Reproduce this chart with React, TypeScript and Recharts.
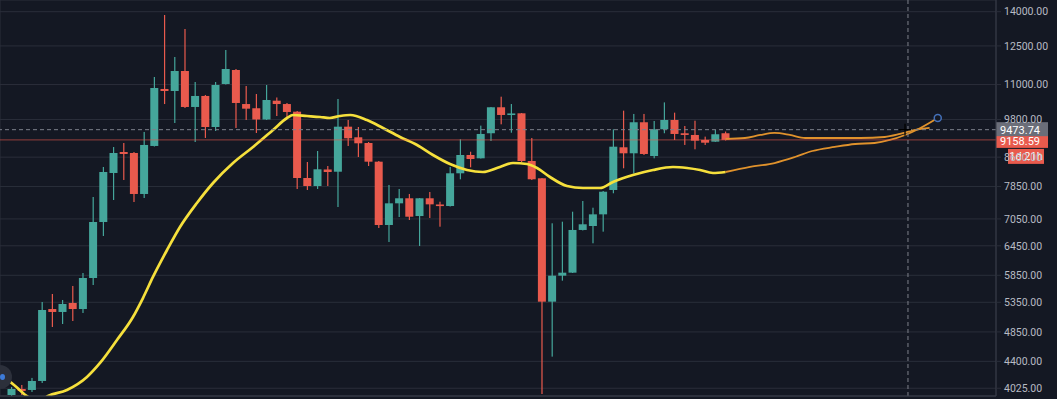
import React from "react";
import {
  ComposedChart,
  Bar,
  Line,
  XAxis,
  YAxis,
  CartesianGrid,
  ReferenceLine,
  ReferenceDot,
} from "recharts";

// ---- data (daily candles) ----
const opens = [
  3936, 4015, 4002, 4123, 5232, 5181, 5338, 5232, 5798, 6979, 8208, 8799, 8770, 7657, 8976, 10840,
  10768, 11505, 10213, 10592, 9558, 11020, 11543, 10313, 10170, 9798, 10428, 10313, 10055, 8073,
  7862, 8304, 8243, 9568, 9238, 9065, 8521, 6910, 7424, 7549, 7118, 7549, 7394, 7358, 8200, 8712,
  8617, 9362, 10203, 9946, 10001, 8541, 8065, 5361, 5843, 5901, 6797, 6887, 7158, 7759, 8937,
  8761, 9709, 8683, 9486, 9782, 9362, 9309, 9156, 9105, 9362,
];
const closes = [
  4015, 3989, 4123, 5215, 5181, 5320, 5232, 5798, 6979, 8235, 8770, 8741, 7657, 9006, 10875,
  10768, 11505, 10213, 10592, 9558, 10984, 11581, 10349, 10156, 9798, 10452, 10313, 10045, 8073,
  7862, 8309, 8235, 9568, 9208, 9056, 8521, 6910, 7424, 7549, 7102, 7549, 7399, 7358, 8200, 8712,
  8597, 9340, 10203, 9946, 9995, 8541, 8039, 5361, 5843, 5901, 6797, 6926, 7158, 7715, 8955,
  8761, 9709, 8741, 9486, 9782, 9340, 9309, 9135, 9074, 9331, 9158.59,
];
const highs = [
  4042, 4069, 4165, 5355, 5499, 5391, 5647, 5895, 7581, 8373, 8945, 9065, 8799, 9402, 11279,
  13848, 12051, 13221, 11093, 10627, 11093, 12333, 11581, 10947, 10661, 10984, 10539, 10349,
  10078, 8512, 8828, 8400, 10487, 9782, 9558, 9095, 8541, 7889, 7785, 7657, 7556, 7708, 7464,
  8373, 9177, 8807, 9601, 10213, 10567, 10313, 10011, 9217, 8073, 6949, 6986, 7221, 7481, 7317,
  7733, 9485, 10089, 9980, 9980, 9750, 10369, 10023, 9590, 9759, 9258, 9464, 9415,
];
const lows = [
  3915, 3936, 3976, 4096, 4930, 4979, 5029, 5164, 5665, 6663, 7506, 8020, 7456, 7556, 8960, 10313,
  9685, 10179, 9095, 9217, 9433, 11002, 9527, 9782, 9370, 9782, 9912, 9880, 7785, 7759, 7785,
  7862, 7334, 8976, 8654, 8400, 6842, 6532, 7095, 7025, 6446, 7072, 6871, 7346, 8038, 8364, 8612,
  9126, 9643, 9379, 8512, 8020, 3949, 4469, 5747, 5895, 6786, 6504, 6759, 7675, 8337, 8195, 8712,
  8617, 9362, 9156, 9006, 8878, 9006, 9100, 9141,
];

// moving average (yellow)
const maIdx = [
  -1.14, 0.24, 1.61, 2.59, 3.57, 5.43, 7.39, 8.67, 10.33, 11.9, 12.88, 13.86, 15.24, 16.51, 18.17,
  19.75, 21.71, 23.67, 25.63, 27.0, 27.59, 28.96, 30.24, 31.2, 32.2, 33.2, 34.84, 36.41, 38.08,
  39.75, 41.31, 42.98, 44.65, 46.2, 47.88, 49.16, 50.53, 51.51, 52.78, 54.45, 56.02, 57.69, 58.96,
  60.92, 62.88, 64.84, 66.22, 67.49, 68.76, 70,
];
const maVals = [
  4206, 4069, 3910, 3846, 3923, 4002, 4178, 4376, 4722, 5096, 5426, 5818, 6361, 6864, 7432, 7941,
  8484, 8946, 9464, 9847, 9945, 9912, 9880, 9847, 9912, 9945, 9782, 9527, 9247, 9006, 8712, 8456,
  8290, 8235, 8373, 8484, 8456, 8345, 8100, 7862, 7810, 7810, 7967, 8152, 8290, 8373, 8345, 8290,
  8208, 8235,
];

// projections (orange)
const projAIdx = [70, 71.9, 73.4, 74.8, 76.3, 77.8, 80.2, 83.2, 85.6, 87.1, 88.6, 90.0];
const projAVals = [9186, 9216, 9309, 9371, 9309, 9216, 9216, 9216, 9247, 9340, 9464, 9527];
const projBIdx = [70, 72.4, 74.8, 76.8, 78.5, 80.7, 82.7, 84.6, 86.1, 87.6, 89.1, 90.8];
const projBVals = [8235, 8373, 8484, 8654, 8828, 8947, 9035, 9065, 9156, 9309, 9527, 9847];

const priceTicks = [4025, 4400, 4850, 5350, 5850, 6450, 7050, 7850, 8650, 9800, 11000, 12500, 14000];
const gridIdx = [8, 16, 25, 34, 43, 51, 60, 69, 78, 86, 95];

const crossPrice = 9473.74;
const lastPrice = 9158.59;
const crossIdx = 87.88;
const cursorIdx = 87.59;
const targetIdx = 90.8;
const targetPrice = 9847;

// ---- styles ----
const BG = "#141823";
const GRID = "#2a2e3a";
const UP = "#45a69b";
const DOWN = "#e95a4d";
const X_DOMAIN: [number, number] = [-1.137, 96.51];
const Y_DOMAIN: [number, number] = [3923, 14553];

const candles = opens.map((o, i) => ({
  i,
  wick: [lows[i], highs[i]],
  body: [Math.min(o, closes[i]), Math.max(o, closes[i])],
  up: closes[i] >= o,
}));
const maData = maIdx.map((i, k) => ({ i, v: maVals[k] }));
const projA = projAIdx.map((i, k) => ({ i, v: projAVals[k] }));
const projB = projBIdx.map((i, k) => ({ i, v: projBVals[k] }));

function WickShape(props: any) {
  const { x, y, width, height, payload } = props;
  if (x == null || y == null) return null;
  const h = Math.abs(height || 0);
  const top = height < 0 ? y + height : y;
  return (
    <rect
      x={x + width / 2 - 0.6}
      y={top}
      width={1.2}
      height={Math.max(h, 1)}
      fill={payload && payload.up ? UP : DOWN}
    />
  );
}

function BodyShape(props: any) {
  const { x, y, width, height, payload } = props;
  if (x == null || y == null) return null;
  const h = Math.abs(height || 0);
  const top = height < 0 ? y + height : y;
  const hh = Math.max(h, 1.6);
  return (
    <rect
      x={x}
      y={top + h / 2 - hh / 2}
      width={width}
      height={hh}
      fill={payload && payload.up ? UP : DOWN}
    />
  );
}

const NoDot = () => <g />;

const grayTag = (props: any) => {
  const vb = props.viewBox || {};
  const right = vb.x + vb.width;
  const ly = vb.y;
  return (
    <g>
      <rect x={right} y={ly - 7.5} width={52} height={14} fill="#6b6e79" />
      <text x={right + 4} y={ly + 4} fill="#ffffff" fontSize={11} fontFamily="Roboto, sans-serif">
        {crossPrice.toFixed(2)}
      </text>
    </g>
  );
};

const redTag = (props: any) => {
  const vb = props.viewBox || {};
  const right = vb.x + vb.width;
  const ly = vb.y;
  return (
    <g>
      <rect x={right} y={ly - 6} width={52} height={14} fill={DOWN} />
      <text x={right + 4} y={ly + 5} fill="#ffffff" fontSize={11} fontFamily="Roboto, sans-serif">
        {lastPrice.toFixed(2)}
      </text>
      <rect x={right + 12} y={ly + 9} width={36} height={15} fill={DOWN} />
      <text
        x={right + 30}
        y={ly + 20.5}
        fill="#ffffff"
        fontSize={11}
        textAnchor="middle"
        fontFamily="Roboto, sans-serif"
      >
        1d 21h
      </text>
    </g>
  );
};

const CursorShape = (props: any) => {
  const { cx, cy } = props;
  if (cx == null) return null;
  return (
    <g stroke="#000000" strokeWidth={1.3}>
      <line x1={cx - 6} y1={cy} x2={cx + 6} y2={cy} />
      <line x1={cx} y1={cy - 6} x2={cx} y2={cy + 6} />
    </g>
  );
};

export default function App() {
  return (
    <div
      style={{
        position: "absolute",
        left: 0,
        top: 0,
        width: 1057,
        height: 399,
        background: BG,
        overflow: "hidden",
      }}
    >
      <ComposedChart
        width={1057}
        height={399}
        data={candles}
        margin={{ top: 0, right: 0, bottom: 0, left: 0 }}
      >
        <CartesianGrid stroke={GRID} strokeWidth={1} xAxisId="a" />
        <XAxis
          xAxisId="a"
          dataKey="i"
          type="number"
          domain={X_DOMAIN}
          allowDataOverflow
          ticks={gridIdx}
          height={3}
          tick={false}
          tickLine={false}
          axisLine={{ stroke: "#3a3e4a" }}
        />
        <XAxis xAxisId="b" dataKey="i" type="number" domain={X_DOMAIN} allowDataOverflow hide />
        <YAxis
          orientation="right"
          scale="log"
          domain={Y_DOMAIN}
          allowDataOverflow
          ticks={priceTicks}
          interval={0}
          width={61}
          tickSize={5}
          tickMargin={3}
          tickLine={{ stroke: GRID }}
          axisLine={{ stroke: "#363a46" }}
          tick={{ fill: "#b8bbc4", fontSize: 10.5, fontFamily: "Roboto, sans-serif" }}
          tickFormatter={(v: number) => v.toFixed(2)}
        />
        <Bar
          xAxisId="a"
          dataKey="wick"
          barSize={2}
          shape={<WickShape />}
          isAnimationActive={false}
        />
        <Bar
          xAxisId="b"
          dataKey="body"
          barSize={8}
          shape={<BodyShape />}
          isAnimationActive={false}
        />
        <Line
          xAxisId="a"
          data={maData}
          dataKey="v"
          type="monotone"
          stroke="#f6e03c"
          strokeWidth={2.7}
          dot={NoDot}
          activeDot={false}
          isAnimationActive={false}
        />
        <Line
          xAxisId="a"
          data={projB}
          dataKey="v"
          type="monotone"
          stroke="#e0922c"
          strokeWidth={1.8}
          dot={NoDot}
          activeDot={false}
          isAnimationActive={false}
        />
        <Line
          xAxisId="a"
          data={projA}
          dataKey="v"
          type="monotone"
          stroke="#e0922c"
          strokeWidth={1.8}
          dot={NoDot}
          activeDot={false}
          isAnimationActive={false}
        />
        <ReferenceLine
          xAxisId="a"
          y={lastPrice}
          stroke={DOWN}
          strokeOpacity={0.6}
          label={redTag}
        />
        <ReferenceLine
          xAxisId="a"
          y={crossPrice}
          stroke="#7d808b"
          strokeDasharray="4 3"
          label={grayTag}
        />
        <ReferenceLine xAxisId="a" x={crossIdx} stroke="#7d808b" strokeDasharray="4 3" />
        <ReferenceDot
          xAxisId="a"
          x={cursorIdx}
          y={crossPrice}
          r={6}
          shape={CursorShape}
        />
        <ReferenceDot
          xAxisId="a"
          x={targetIdx}
          y={targetPrice}
          r={3.5}
          fill={BG}
          stroke="#4470b8"
          strokeWidth={1.5}
        />
      </ComposedChart>
      <div
        style={{
          position: "absolute",
          left: -12,
          top: 365,
          width: 24,
          height: 24,
          borderRadius: "50%",
          background: "#2c303b",
        }}
      >
        <div
          style={{
            position: "absolute",
            left: 12,
            top: 9,
            width: 5,
            height: 6,
            borderRadius: "50%",
            background: "#3d7bd9",
          }}
        />
      </div>
    </div>
  );
}
